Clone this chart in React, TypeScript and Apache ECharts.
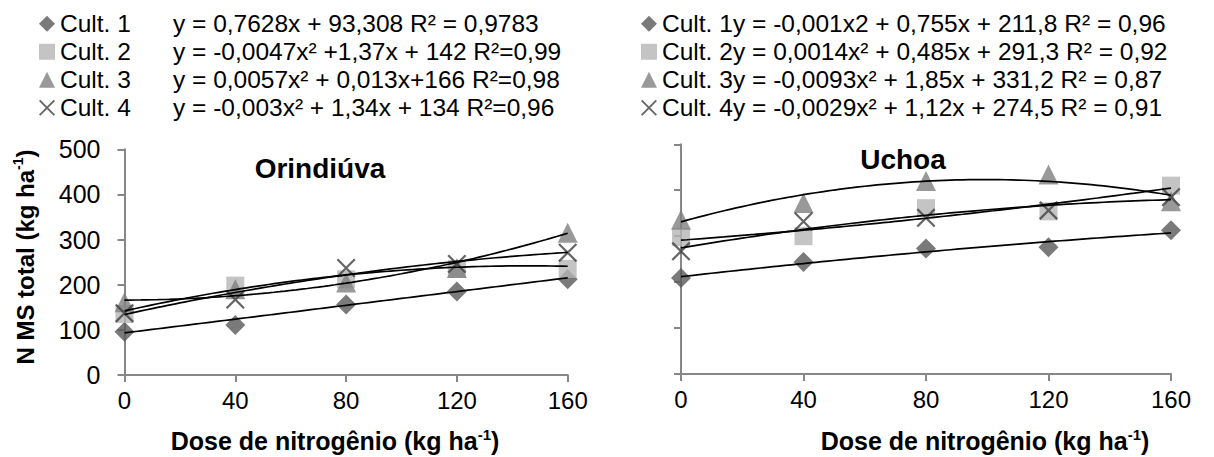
import { useEffect, useRef } from "react";
import * as echarts from "echarts";

const doses = [0, 40, 80, 120, 160];
const cultivars = ["Cult. 1", "Cult. 2", "Cult. 3", "Cult. 4"];

// Orindiúva observed values (kg ha-1)
const orC1 = [96, 111, 156, 185, 212];
const orC2 = [135, 198, 212, 235, 235];
const orC3 = [161, 190, 205, 237, 315];
const orC4 = [137, 167, 237, 246, 271];
// Uchoa observed values (kg ha-1)
const ucC1 = [209, 244, 273, 276, 313];
const ucC2 = [298, 300, 361, 354, 410];
const ucC3 = [336, 372, 420, 434, 376];
const ucC4 = [267, 332, 340, 356, 385];

// fitted trend coefficients printed on the chart: [x², x, constant]
const orFit = [
  [0, 0.7628, 93.308],
  [-0.0047, 1.37, 142],
  [0.0057, 0.013, 166],
  [-0.003, 1.34, 134],
];
const ucFit = [
  [-0.001, 0.755, 211.8],
  [0.0014, 0.485, 291.3],
  [-0.0093, 1.85, 331.2],
  [-0.0029, 1.12, 274.5],
];

const orEq = [
  "y = 0,7628x + 93,308 R² = 0,9783",
  "y = -0,0047x² +1,37x + 142 R²=0,99",
  "y = 0,0057x² + 0,013x+166 R²=0,98",
  "y = -0,003x² + 1,34x + 134 R²=0,96",
];
const ucEq = [
  "y = -0,001x2 + 0,755x + 211,8 R² = 0,96",
  "y = 0,0014x² + 0,485x + 291,3 R² = 0,92",
  "y = -0,0093x² + 1,85x + 331,2 R² = 0,87",
  "y = -0,0029x² + 1,12x + 274,5 R² = 0,91",
];

const panelTitles = ["Orindiúva", "Uchoa"];

const FONT = "'Liberation Sans', Arial, sans-serif";
const AXIS_COLOR = "#878787";
const markerColors = ["#595959", "#b5b5b5", "#7f7f7f", "#404040"];
const xPath = "path://M1,0 L12,11 L11,12 L0,1 Z M11,0 L12,1 L1,12 L0,11 Z";
const markerSymbols = ["diamond", "rect", "triangle", xPath];
const markerSizes: any[] = [20, 18, 20, 19];

function trend(coef: number[]) {
  const pts: number[][] = [];
  for (let x = 0; x <= 160; x += 2) {
    pts.push([x, coef[0] * x * x + coef[1] * x + coef[2]]);
  }
  return pts;
}

export default function App() {
  const ref = useRef<HTMLDivElement>(null);
  useEffect(() => {
    if (!ref.current) return;
    const chart = echarts.init(ref.current, undefined, { renderer: "svg" });
    const panels = [
      { vals: [orC1, orC2, orC3, orC4], fit: orFit },
      { vals: [ucC1, ucC2, ucC3, ucC4], fit: ucFit },
    ];
    const series: any[] = [];
    panels.forEach((p, pi) => {
      p.vals.forEach((vals, i) => {
        series.push({
          name: cultivars[i],
          type: "scatter",
          xAxisIndex: pi,
          yAxisIndex: pi,
          symbol: markerSymbols[i],
          symbolSize: markerSizes[i],
          itemStyle: { color: markerColors[i] },
          z: 2,
          data: doses.map((d, j) => [d, vals[j]]),
        });
      });
      p.fit.forEach((coef) => {
        series.push({
          type: "line",
          xAxisIndex: pi,
          yAxisIndex: pi,
          showSymbol: false,
          symbol: "none",
          silent: true,
          z: 3,
          lineStyle: { color: "#000", width: 1.7 },
          data: trend(coef),
        });
      });
    });

    const xAxisBase = {
      type: "value",
      min: 0,
      max: 160,
      interval: 40,
      splitLine: { show: false },
      axisLine: { show: true, lineStyle: { color: AXIS_COLOR, width: 2 } },
      axisTick: { show: true, length: 7, lineStyle: { color: AXIS_COLOR, width: 2 } },
      axisLabel: { color: "#000", fontFamily: FONT, fontSize: 24, margin: 13 },
    };
    const yAxisBase = {
      type: "value",
      min: 0,
      max: 500,
      interval: 100,
      splitLine: { show: false },
      axisLine: { show: true, lineStyle: { color: AXIS_COLOR, width: 2 } },
      axisTick: { show: true, length: 7, lineStyle: { color: AXIS_COLOR, width: 2 } },
    };

    const LEG_FS = 24.5;
    const LEG_LH = 25.5;
    const legendBase = (left: number, nameWidth: number, eqs: string[]) => ({
      data: cultivars,
      orient: "vertical",
      left,
      top: 6,
      itemWidth: 16,
      itemHeight: 16,
      itemGap: 2.5,
      selectedMode: false,
      formatter: (name: string) => `{n|${name}}{e|${eqs[cultivars.indexOf(name)]}}`,
      textStyle: {
        color: "#000",
        fontFamily: FONT,
        fontSize: LEG_FS,
        lineHeight: LEG_LH,
        rich: {
          n: { fontFamily: FONT, fontSize: LEG_FS, lineHeight: LEG_LH, width: nameWidth, color: "#000" },
          e: { fontFamily: FONT, fontSize: LEG_FS, lineHeight: LEG_LH, color: "#000" },
        },
      },
    });

    const boldRich = (size: number) => ({
      b: { fontFamily: FONT, fontSize: size, fontWeight: "bold", lineHeight: size + 4, fill: "#000", color: "#000" },
      s: { fontFamily: FONT, fontSize: Math.round(size * 0.6), fontWeight: "bold", lineHeight: Math.round(size * 0.6), verticalAlign: "top", fill: "#000", color: "#000" },
    });

    const xTitle = "{b|Dose de nitrogênio (kg ha}{s|-1}{b|)}";

    chart.setOption({
      animation: false,
      backgroundColor: "#fff",
      grid: [
        { left: 124.5, top: 149.3, width: 443.2, height: 225.7 },
        { left: 681, top: 144.3, width: 490, height: 229.7 },
      ],
      xAxis: [
        { ...xAxisBase, gridIndex: 0 },
        { ...xAxisBase, gridIndex: 1 },
      ],
      yAxis: [
        {
          ...yAxisBase,
          gridIndex: 0,
          axisLabel: { color: "#000", fontFamily: FONT, fontSize: 25, margin: 24 },
        },
        { ...yAxisBase, gridIndex: 1, axisLabel: { show: false } },
      ],
      legend: [legendBase(34, 113, orEq), legendBase(636, 71, ucEq)],
      graphic: [
        {
          type: "text",
          x: 320,
          y: 168,
          style: { text: panelTitles[0], font: `bold 28px ${FONT}`, fill: "#000", align: "center", verticalAlign: "middle" },
        },
        {
          type: "text",
          x: 903,
          y: 159,
          style: { text: panelTitles[1], font: `bold 28px ${FONT}`, fill: "#000", align: "center", verticalAlign: "middle" },
        },
        {
          type: "text",
          x: 335,
          y: 441,
          style: { text: xTitle, rich: boldRich(25), align: "center", verticalAlign: "middle" },
        },
        {
          type: "text",
          x: 985,
          y: 441,
          style: { text: xTitle, rich: boldRich(25), align: "center", verticalAlign: "middle" },
        },
        {
          type: "text",
          x: 25,
          y: 257,
          rotation: Math.PI / 2,
          style: { text: "{b|N MS total (kg ha}{s|-1}{b|)}", rich: boldRich(24), align: "center", verticalAlign: "middle" },
        },
      ],
      series,
    });
    return () => chart.dispose();
  }, []);
  return (
    <div
      ref={ref}
      style={{ position: "fixed", left: 0, top: 0, width: 1214, height: 457, background: "#fff" }}
    />
  );
}
